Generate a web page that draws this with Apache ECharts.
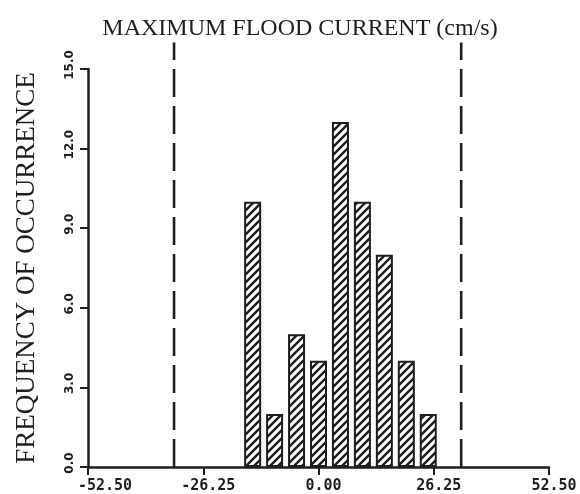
<!DOCTYPE html>
<html>
<head>
<meta charset="utf-8">
<script src="https://cdn.jsdelivr.net/npm/echarts@6/dist/echarts.min.js"></script>
<style>
  html, body { margin: 0; padding: 0; background: #fff; }
  #chart { width: 580px; height: 494px; }
</style>
</head>
<body>
<div id="chart"></div>
<script>
// Histogram bins: centre of each 5 cm/s class and how many times it occurred
const binCenters = [-15, -10, -5, 0, 5, 10, 15, 20, 25];
const frequencies = [10, 2, 5, 4, 13, 10, 8, 4, 2];
// Dashed reference limits on the current axis (cm/s)
const limits = [-32.9, 32.5];
const limitTop = 16;
// Axis ranges and tick spacing
const xRange = [-52.5, 52.5];
const xStep = 26.25;
const yRange = [0, 15];
const yStep = 3;

const INK = '#1e1e1e';

// Diagonal "/" hatch used to fill the bars
function hatchPattern() {
  const s = 8;
  const c = document.createElement('canvas');
  c.width = s; c.height = s;
  const g = c.getContext('2d');
  g.fillStyle = '#fff';
  g.fillRect(0, 0, s, s);
  g.strokeStyle = INK;
  g.lineWidth = 2.4;
  g.lineCap = 'square';
  g.beginPath();
  g.moveTo(-2, s + 2); g.lineTo(s + 2, -2);
  g.moveTo(-2 - s, s + 2); g.lineTo(2, -2);
  g.moveTo(s - 2, s + 2); g.lineTo(2 * s + 2, -2);
  g.stroke();
  return c;
}

const chart = echarts.init(document.getElementById('chart'), null, { renderer: 'canvas' });

const barData = binCenters.map((x, i) => [x, frequencies[i]]);

// Each limit is a vertical dashed line from the baseline up past the top of the plot
const limitSeries = limits.map(x => ({
  type: 'line',
  data: [[x, yRange[0]], [x, limitTop]],
  symbol: 'none',
  clip: false,
  silent: true,
  lineStyle: { color: INK, width: 2.6, type: [28, 9] },
  z: 1
}));

chart.setOption({
  backgroundColor: '#fff',
  animation: false,
  title: {
    text: 'MAXIMUM FLOOD CURRENT (cm/s)',
    left: 295,
    textAlign: 'center',
    top: 12,
    textStyle: {
      fontFamily: '"Liberation Serif", "Times New Roman", serif',
      fontWeight: 'normal',
      fontSize: 24,
      color: INK
    }
  },
  grid: { left: 88, right: 31, top: 69, bottom: 26, containLabel: false },
  xAxis: {
    type: 'value',
    min: xRange[0],
    max: xRange[1],
    interval: xStep,
    axisLine: { onZero: false, lineStyle: { color: INK, width: 2.5 } },
    axisTick: { show: true, length: 8, inside: false, lineStyle: { color: INK, width: 2 } },
    splitLine: { show: false },
    axisLabel: {
      margin: 12,
      showMinLabel: true,
      showMaxLabel: true,
      formatter: v => (Math.abs(v - xRange[0]) < 1e-9 ? '{lead|' : '{n|') + v.toFixed(2) + '}',
      rich: {
        n: {
          fontFamily: '"DejaVu Sans Mono", monospace', fontWeight: 'bold', fontSize: 15,
          color: INK, padding: [0, 0, 0, 10]
        },
        lead: {
          fontFamily: '"DejaVu Sans Mono", monospace', fontWeight: 'bold', fontSize: 15,
          color: INK, padding: [0, 0, 0, 34]
        }
      }
    }
  },
  yAxis: {
    type: 'value',
    min: yRange[0],
    max: yRange[1],
    interval: yStep,
    name: 'FREQUENCY OF OCCURRENCE',
    nameLocation: 'middle',
    nameGap: 48,
    nameRotate: 90,
    nameTextStyle: {
      fontFamily: '"Liberation Serif", "Times New Roman", serif',
      fontSize: 27,
      color: INK
    },
    axisLine: { show: true, onZero: false, lineStyle: { color: INK, width: 2.5 } },
    axisTick: { show: true, length: 8, inside: false, lineStyle: { color: INK, width: 2 } },
    splitLine: { show: false },
    axisLabel: {
      rotate: 90,
      margin: 12,
      showMinLabel: true,
      showMaxLabel: true,
      formatter: v => v.toFixed(1),
      fontFamily: '"DejaVu Sans", sans-serif',
      fontWeight: 'bold',
      fontSize: 12,
      color: INK,
      padding: [0, 0, 0, 8]
    }
  },
  series: [{
    type: 'bar',
    data: barData,
    barWidth: 17,
    z: 2,
    itemStyle: {
      color: { image: hatchPattern(), repeat: 'repeat' },
      borderColor: INK,
      borderWidth: 2
    }
  }].concat(limitSeries)
});
</script>
</body>
</html>
